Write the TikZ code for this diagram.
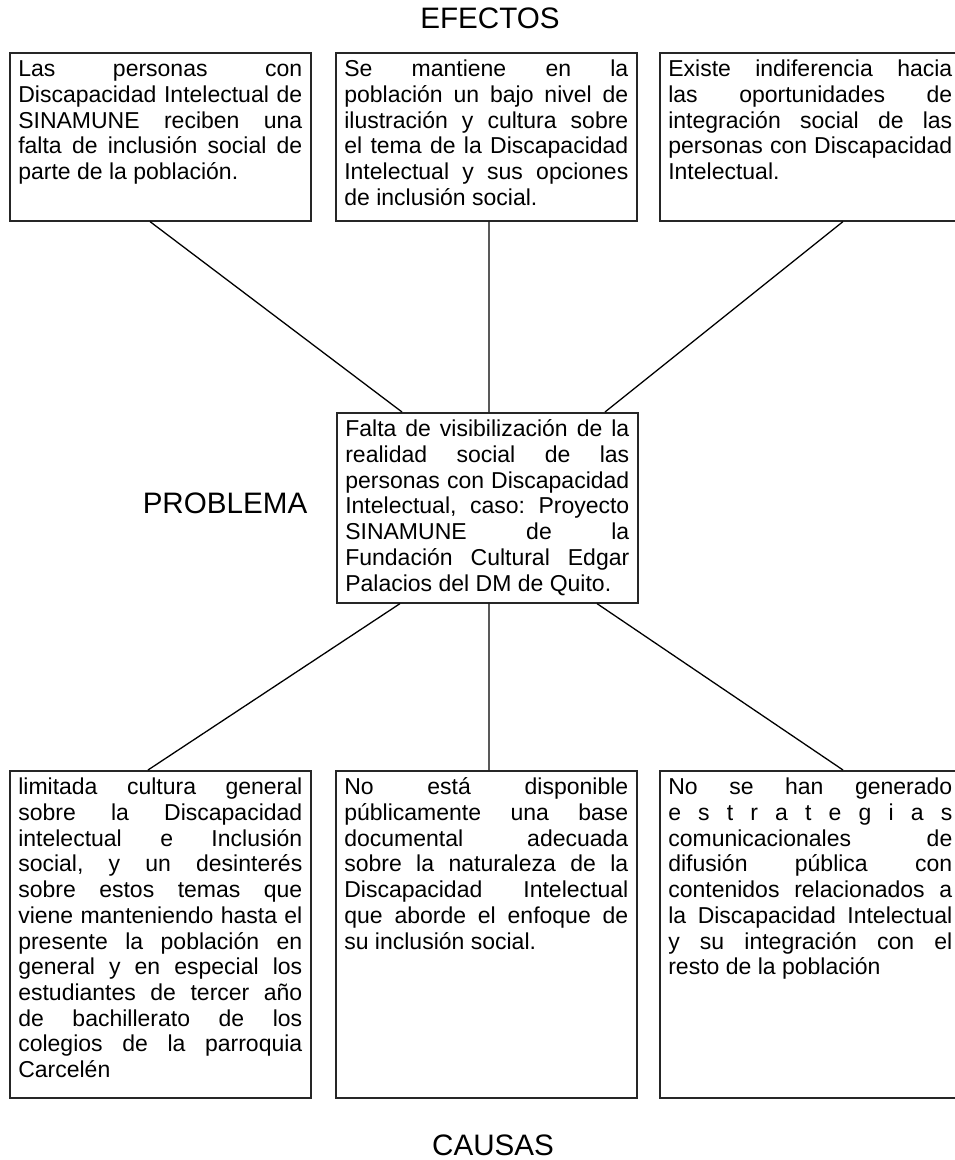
\documentclass[tikz,border=0pt]{standalone}
\usepackage{fontspec}
\setmainfont{Liberation Sans}
\usetikzlibrary{calc}
\newcommand{\bodyfont}{\fontsize{23bp}{25.7bp}\selectfont}
\newcommand{\titlefont}{\fontsize{29.6bp}{34bp}\selectfont}
\newcommand{\btext}[2]{\parbox[c][#1][t]{284bp}{\lineskiplimit=-100bp\rule{0pt}{24bp}#2}}
\tikzset{
  box/.style={draw=black!85, line width=1.6bp, inner xsep=8.5bp, inner ysep=0pt, anchor=north west, font=\bodyfont},
  conn/.style={draw=black, line width=1.3bp},
  title/.style={anchor=base, font=\titlefont, inner sep=0pt}
}
\begin{document}
\begin{tikzpicture}[x=1bp,y=-1bp]
\useasboundingbox (0,0) rectangle (955,1160);
% titles
\node[title] (tef) at (490,28) {EFECTOS};
\node[title] (tpr) at (225,513) {PROBLEMA};
\node[title] (tca) at (493,1155) {CAUSAS};
% effects
\node[box] (e1) at (9,52) {\btext{168bp}{Las\hfill personas\hfill con\\
Discapacidad\hfill Intelectual\hfill de\\
SINAMUNE\hfill reciben\hfill una\\
falta\hfill de\hfill inclusión\hfill social\hfill de\\
parte de la población.}};
\node[box] (e2) at (335,52) {\btext{168bp}{Se\hfill mantiene\hfill en\hfill la\\
población\hfill un\hfill bajo\hfill nivel\hfill de\\
ilustración\hfill y\hfill cultura\hfill sobre\\
el\hfill tema\hfill de\hfill la\hfill Discapacidad\\
Intelectual\hfill y\hfill sus\hfill opciones\\
de inclusión social.}};
\node[box] (e3) at (659,52) {\btext{168bp}{Existe\hfill indiferencia\hfill hacia\\
las\hfill oportunidades\hfill de\\
integración\hfill social\hfill de\hfill las\\
personas\hfill con\hfill Discapacidad\\
Intelectual.}};
% problem
\node[box] (p) at (336,412) {\btext{190bp}{Falta\hfill de\hfill visibilización\hfill de\hfill la\\
realidad\hfill social\hfill de\hfill las\\
personas\hfill con\hfill Discapacidad\\
Intelectual,\hfill caso:\hfill Proyecto\\
SINAMUNE\hfill de\hfill la\\
Fundación\hfill Cultural\hfill Edgar\\
Palacios del DM de Quito.}};
% causes
\node[box] (c1) at (9,770) {\btext{327bp}{limitada\hfill cultura\hfill general\\
sobre\hfill la\hfill Discapacidad\\
intelectual\hfill e\hfill Inclusión\\
social,\hfill y\hfill un\hfill desinterés\\
sobre\hfill estos\hfill temas\hfill que\\
viene\hfill manteniendo\hfill hasta\hfill el\\
presente\hfill la\hfill población\hfill en\\
general\hfill y\hfill en\hfill especial\hfill los\\
estudiantes\hfill de\hfill tercer\hfill año\\
de\hfill bachillerato\hfill de\hfill los\\
colegios\hfill de\hfill la\hfill parroquia\\
Carcelén}};
\node[box] (c2) at (335,770) {\btext{327bp}{No\hfill está\hfill disponible\\
públicamente\hfill una\hfill base\\
documental\hfill adecuada\\
sobre\hfill la\hfill naturaleza\hfill de\hfill la\\
Discapacidad\hfill Intelectual\\
que\hfill aborde\hfill el\hfill enfoque\hfill de\\
su inclusión social.}};
\node[box] (c3) at (659,770) {\btext{327bp}{No\hfill se\hfill han\hfill generado\\
e\hfill s\hfill t\hfill r\hfill a\hfill t\hfill e\hfill g\hfill i\hfill a\hfill s\\
comunicacionales\hfill de\\
difusión\hfill pública\hfill con\\
contenidos\hfill relacionados\hfill a\\
la\hfill Discapacidad\hfill Intelectual\\
y\hfill su\hfill integración\hfill con\hfill el\\
resto de la población}};
% connectors
\draw[conn] ([xshift=141bp]e1.south west) -- ([xshift=66bp]p.north west);
\draw[conn] ([xshift=154bp]e2.south west) -- ([xshift=153bp]p.north west);
\draw[conn] ([xshift=184bp]e3.south west) -- ([xshift=269bp]p.north west);
\draw[conn] ([xshift=64bp]p.south west) -- ([xshift=139bp]c1.north west);
\draw[conn] ([xshift=153bp]p.south west) -- ([xshift=154bp]c2.north west);
\draw[conn] ([xshift=261bp]p.south west) -- ([xshift=184bp]c3.north west);
\end{tikzpicture}
\end{document}
